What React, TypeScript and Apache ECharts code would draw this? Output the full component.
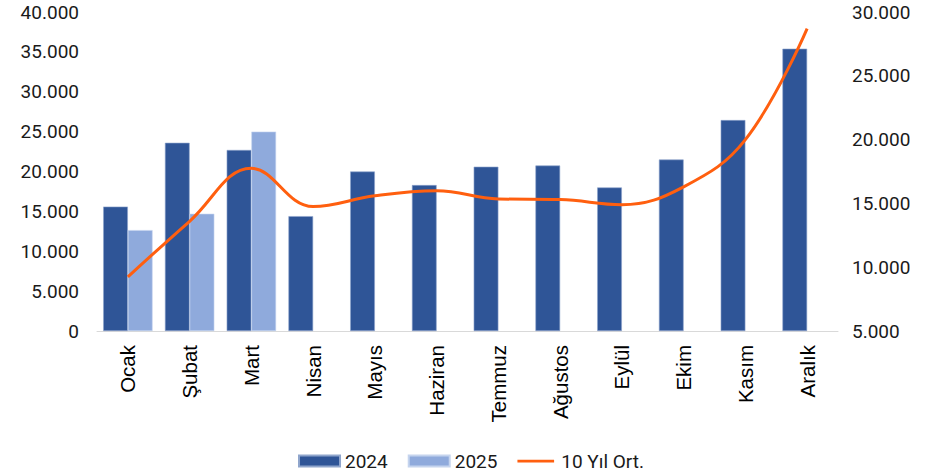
import React, { useEffect, useRef } from "react";
import * as echarts from "echarts";

const categories = ["Ocak", "Şubat", "Mart", "Nisan", "Mayıs", "Haziran", "Temmuz", "Ağustos", "Eylül", "Ekim", "Kasım", "Aralık"];
const values2024 = [15600, 23600, 22700, 14400, 20000, 18300, 20600, 20750, 18000, 21500, 26450, 35400];
const values2025: (number | string)[] = [12650, 14700, 25000, "-", "-", "-", "-", "-", "-", "-", "-", "-"];
const avg10 = [9250, 13600, 17750, 14750, 15600, 16000, 15350, 15300, 14900, 16300, 20000, 28700];
const leftTicks = { min: 0, max: 40000, interval: 5000 };
const rightTicks = { min: 5000, max: 30000, interval: 5000 };

const fmt = (v: number) => v.toLocaleString("de-DE");
const lineIcon = "path://M0,0H0.01V0.01H0Z M0,4.5H40V7.5H0Z M40,12H39.99V11.99H40Z";

export default function App() {
  const ref = useRef<HTMLDivElement>(null);
  useEffect(() => {
    if (!ref.current) return;
    const chart = echarts.init(ref.current, undefined, { renderer: "svg" });
    chart.setOption({
      animation: false,
      grid: { left: 97, right: 104, top: 12, bottom: 144 },
      legend: {
        top: 451,
        left: "center",
        padding: 0,
        itemWidth: 41,
        itemHeight: 11,
        itemGap: 20,
        textStyle: { fontFamily: "Roboto", fontSize: 19, lineHeight: 20, color: "#1a1a1a" },
        data: [
          { name: "2024", icon: "rect" },
          { name: "2025", icon: "rect" },
          { name: "10 Yıl Ort.", icon: lineIcon, itemStyle: { color: "#FF5F0F" } },
        ],
      },
      xAxis: {
        type: "category",
        data: categories,
        axisLine: { lineStyle: { color: "#D9D9D9", width: 1 } },
        axisTick: { show: false },
        axisLabel: { rotate: 90, margin: 14, fontFamily: "Liberation Sans", fontSize: 20.5, color: "#000" },
      },
      yAxis: [
        {
          type: "value",
          ...leftTicks,
          splitLine: { show: false },
          axisLine: { show: false },
          axisLabel: { margin: 18, fontFamily: "Roboto", fontSize: 19, color: "#1a1a1a", formatter: fmt },
        },
        {
          type: "value",
          ...rightTicks,
          position: "right",
          splitLine: { show: false },
          axisLine: { show: false },
          axisLabel: { margin: 14, fontFamily: "Roboto", fontSize: 19, color: "#1a1a1a", formatter: fmt },
        },
      ],
      series: [
        {
          name: "2024",
          type: "bar",
          data: values2024,
          barGap: "0%",
          barCategoryGap: "20%",
          itemStyle: { color: "#2F5597", borderColor: "#8FA5CC", borderWidth: 0.6 },
        },
        {
          name: "2025",
          type: "bar",
          data: values2025,
          itemStyle: { color: "#8FAADC", borderColor: "#C5D4EE", borderWidth: 0.6 },
        },
        {
          name: "10 Yıl Ort.",
          type: "line",
          yAxisIndex: 1,
          data: avg10,
          smooth: 0.4,
          symbol: "none",
          lineStyle: { color: "#FF5F0F", width: 3 },
          itemStyle: { color: "#FF5F0F" },
        },
      ],
    });
    return () => chart.dispose();
  }, []);
  return <div ref={ref} style={{ width: 942, height: 475, position: "absolute", left: 0, top: 0 }} />;
}
